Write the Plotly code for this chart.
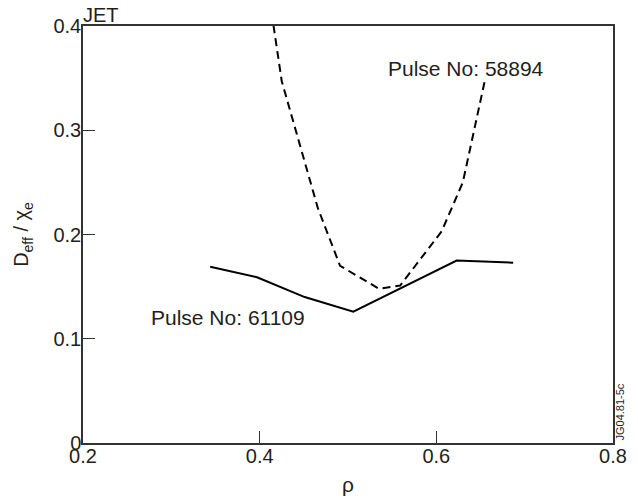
import plotly.graph_objects as go

# Pulse No: 61109 (solid)
rho_61109 = [0.344, 0.397, 0.451, 0.506, 0.623, 0.687]
ratio_61109 = [0.169, 0.159, 0.140, 0.126, 0.175, 0.173]

# Pulse No: 58894 (dashed)
rho_58894 = [0.407, 0.425, 0.466, 0.491, 0.535, 0.559, 0.606, 0.630, 0.6545]
ratio_58894 = [0.45, 0.347, 0.225, 0.170, 0.148, 0.151, 0.203, 0.250, 0.346]

x_ticks = [0.2, 0.4, 0.6, 0.8]
y_ticks = [0, 0.1, 0.2, 0.3, 0.4]

FONT = "Liberation Sans, Arial, sans-serif"
TXT = "#231f20"
AX = "#333333"

fig = go.Figure()
fig.add_trace(go.Scatter(x=rho_61109, y=ratio_61109, mode="lines",
                         line=dict(color="black", width=2), showlegend=False))
fig.add_trace(go.Scatter(x=rho_58894, y=ratio_58894, mode="lines",
                         line=dict(color="black", width=2, dash="8px,5px"), showlegend=False))

fig.add_annotation(x=0.5428, y=0.3597, xref="x", yref="y", text="Pulse No: 58894",
                   showarrow=False, xanchor="left", yanchor="middle",
                   font=dict(family=FONT, size=21, color=TXT))
fig.add_annotation(x=0.2748, y=0.1202, xref="x", yref="y", text="Pulse No: 61109",
                   showarrow=False, xanchor="left", yanchor="middle",
                   font=dict(family=FONT, size=21, color=TXT))
fig.add_annotation(x=0, y=1 + 11 / 417, xref="paper", yref="paper", text="JET",
                   showarrow=False, xanchor="left", yanchor="middle", xshift=-2,
                   font=dict(family=FONT, size=20, color=TXT))
fig.add_annotation(x=(619 - 83) / 530, y=0, xref="paper", yref="paper", text="JG04.81-5c",
                   showarrow=False, xanchor="center", yanchor="bottom", textangle=-90,
                   font=dict(family=FONT, size=11, color=TXT))

fig.update_layout(
    width=638, height=500,
    margin=dict(l=83, r=25, t=26, b=57),
    paper_bgcolor="white", plot_bgcolor="white",
    font=dict(family=FONT, size=20, color=TXT),
    xaxis=dict(range=[0.2, 0.8], tickvals=x_ticks, ticktext=[str(v) for v in x_ticks],
               ticks="inside", ticklen=12, tickwidth=1.3, tickcolor=AX,
               showline=True, linecolor=AX, linewidth=1.5, mirror=True,
               showgrid=False, zeroline=False, automargin=False,
               ticklabelstandoff=-6,
               tickfont=dict(family=FONT, size=20, color=TXT),
               title=dict(text="ρ", standoff=12, font=dict(family=FONT, size=21, color=TXT))),
    yaxis=dict(range=[0, 0.4], tickvals=y_ticks, ticktext=["0", "0.1", "0.2", "0.3", "0.4"],
               ticks="inside", ticklen=12, tickwidth=1.3, tickcolor=AX,
               showline=True, linecolor=AX, linewidth=1.5, mirror=True,
               showgrid=False, zeroline=False, automargin=False,
               ticklabelstandoff=-4,
               tickfont=dict(family=FONT, size=20, color=TXT),
               title=dict(text="D<sub>eff</sub> / χ<sub>e</sub>", standoff=19,
                          font=dict(family=FONT, size=20, color=TXT))),
)

fig.write_html("out.html", config={"displayModeBar": False},
               post_script="document.body.style.margin='0';")
